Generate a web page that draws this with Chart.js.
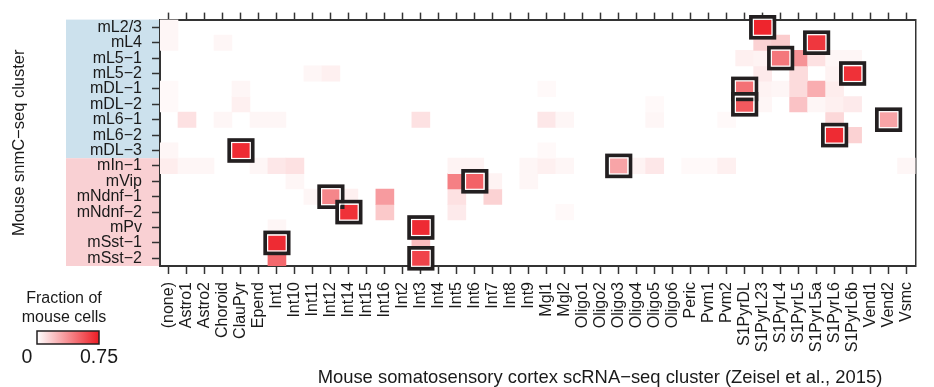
<!DOCTYPE html>
<html lang="en">
<head>
<meta charset="UTF-8">
<title>snmC-seq vs scRNA-seq clusters</title>
<script src="https://cdn.jsdelivr.net/npm/chart.js"></script>
<style>
  body { margin: 0; background: #fff; }
  canvas { display: block; }
</style>
</head>
<body>
<canvas id="heatmap" width="934" height="387"></canvas>
<script>
// snmC-seq clusters (rows) against scRNA-seq clusters (columns)
const rowLabels = ['mL2/3', 'mL4', 'mL5−1', 'mL5−2', 'mDL−1', 'mDL−2', 'mL6−1', 'mL6−2', 'mDL−3',
  'mIn−1', 'mVip', 'mNdnf−1', 'mNdnf−2', 'mPv', 'mSst−1', 'mSst−2'];
const excitatoryRows = 9; // first 9 rows are excitatory, the rest inhibitory

const colLabels = ['(none)', 'Astro1', 'Astro2', 'Choroid', 'ClauPyr', 'Epend', 'Int1', 'Int10', 'Int11',
  'Int12', 'Int14', 'Int15', 'Int16', 'Int2', 'Int3', 'Int4', 'Int5', 'Int6', 'Int7', 'Int8', 'Int9',
  'Mgl1', 'Mgl2', 'Oligo1', 'Oligo2', 'Oligo3', 'Oligo4', 'Oligo5', 'Oligo6', 'Peric', 'Pvm1', 'Pvm2',
  'S1PyrDL', 'S1PyrL23', 'S1PyrL4', 'S1PyrL5', 'S1PyrL5a', 'S1PyrL6', 'S1PyrL6b', 'Vend1', 'Vend2', 'Vsmc'];

// fraction of mouse cells per row, only non-zero cells: [column, fraction]
const fractions = [
  [['(none)', 0.03], ['S1PyrL23', 0.72]],
  [['(none)', 0.03], ['Choroid', 0.03], ['S1PyrL23', 0.15], ['S1PyrL4', 0.17], ['S1PyrL5a', 0.66]],
  [['S1PyrDL', 0.05], ['S1PyrL23', 0.04], ['S1PyrL4', 0.45], ['S1PyrL5', 0.36], ['S1PyrL5a', 0.1],
   ['S1PyrL6', 0.03], ['S1PyrL6b', 0.03]],
  [['Int11', 0.03], ['Int12', 0.05], ['S1PyrL23', 0.07], ['S1PyrL5', 0.12], ['S1PyrL6', 0.04], ['S1PyrL6b', 0.68]],
  [['(none)', 0.02], ['ClauPyr', 0.03], ['Mgl1', 0.02], ['S1PyrDL', 0.47], ['S1PyrL23', 0.04], ['S1PyrL4', 0.03],
   ['S1PyrL5', 0.12], ['S1PyrL5a', 0.27], ['S1PyrL6', 0.06]],
  [['(none)', 0.02], ['ClauPyr', 0.05], ['Oligo5', 0.02], ['S1PyrDL', 0.55], ['S1PyrL23', 0.03], ['S1PyrL5', 0.2],
   ['S1PyrL5a', 0.03], ['S1PyrL6', 0.05], ['S1PyrL6b', 0.07]],
  [['Astro1', 0.1], ['Choroid', 0.03], ['Epend', 0.03], ['Int1', 0.03], ['Int3', 0.1], ['Mgl1', 0.08],
   ['Mgl2', 0.03], ['Oligo5', 0.03], ['Pvm2', 0.02], ['S1PyrL6', 0.13], ['Vend2', 0.3]],
  [['S1PyrL6', 0.7], ['S1PyrL6b', 0.15]],
  [['(none)', 0.03], ['ClauPyr', 0.7], ['Mgl1', 0.02]],
  [['(none)', 0.06], ['Astro1', 0.03], ['Astro2', 0.03], ['Epend', 0.03], ['Int1', 0.08], ['Int10', 0.1],
   ['Int5', 0.04], ['Int6', 0.04], ['Int9', 0.03], ['Mgl1', 0.05], ['Mgl2', 0.03], ['Oligo3', 0.3],
   ['Oligo4', 0.04], ['Oligo5', 0.08], ['Peric', 0.02], ['Pvm1', 0.02], ['Pvm2', 0.05], ['Vsmc', 0.03]],
  [['Int10', 0.03], ['Int5', 0.42], ['Int6', 0.52], ['Int7', 0.04], ['Int9', 0.03]],
  [['Int11', 0.03], ['Int12', 0.4], ['Int14', 0.05], ['Int16', 0.33], ['Int5', 0.1], ['Int7', 0.15]],
  [['Int14', 0.68], ['Int16', 0.18], ['Int5', 0.07], ['Mgl2', 0.02]],
  [['Int1', 0.03], ['Int3', 0.7]],
  [['Int1', 0.7], ['Int3', 0.22]],
  [['Int1', 0.5], ['Int3', 0.62]]
];

// best matching scRNA-seq cluster for each row (outlined)
const bestMatch = ['S1PyrL23', 'S1PyrL5a', 'S1PyrL4', 'S1PyrL6b', 'S1PyrDL', 'S1PyrDL', 'Vend2', 'S1PyrL6',
  'ClauPyr', 'Oligo3', 'Int6', 'Int12', 'Int14', 'Int3', 'Int1', 'Int3'];

const scaleMax = 0.75;

const FONT = "'Liberation Sans', Arial, Helvetica, sans-serif";
const INK = '#231f20';
const AXIS = '#333333';
const RED = [237, 28, 36];

function fracColor(v) {
  const t = Math.min(v / scaleMax, 1);
  const c = RED.map(ch => Math.round(255 + (ch - 255) * t));
  return 'rgb(' + c.join(',') + ')';
}

// one floating-bar dataset per row, each bar covers one cell
const datasets = fractions.map((cells, r) => ({
  label: rowLabels[r],
  data: cells.map(([col, v]) => ({ x: col, y: [r - 0.5, r + 0.5], v: v })),
  backgroundColor: ctx => ctx.raw ? fracColor(ctx.raw.v) : '#fff',
  borderWidth: 0,
  categoryPercentage: 1,
  barPercentage: 1,
  grouped: false
}));

// row label bands, outline boxes, colour key and x title
const decorations = {
  id: 'decorations',
  beforeDraw(chart) {
    const { ctx, chartArea } = chart;
    const y = chart.scales.y;
    ctx.save();
    ctx.fillStyle = '#fff';
    ctx.fillRect(0, 0, chart.width, chart.height);
    const mid = y.getPixelForValue(excitatoryRows - 0.5);
    ctx.fillStyle = '#cce1ed';
    ctx.fillRect(66, y.getPixelForValue(-0.5), chartArea.left - 66, mid - y.getPixelForValue(-0.5));
    ctx.fillStyle = '#f9d0d3';
    ctx.fillRect(66, mid, chartArea.left - 66, y.getPixelForValue(rowLabels.length - 0.5) - mid);
    ctx.restore();
  },
  afterDatasetsDraw(chart) {
    const { ctx } = chart;
    const x = chart.scales.x, y = chart.scales.y;
    const hw = (x.getPixelForValue(1) - x.getPixelForValue(0)) / 2;
    const hh = Math.abs(y.getPixelForValue(1) - y.getPixelForValue(0)) / 2;
    ctx.save();
    bestMatch.forEach((col, r) => {
      const cx = x.getPixelForValue(colLabels.indexOf(col));
      const cy = y.getPixelForValue(r);
      ctx.lineWidth = 4;
      ctx.strokeStyle = INK;
      ctx.strokeRect(cx - hw - 2.6, cy - hh - 2.6, 2 * hw + 5.2, 2 * hh + 5.2);
      ctx.lineWidth = 1.2;
      ctx.strokeStyle = '#fff';
      ctx.strokeRect(cx - hw - 0.3, cy - hh - 0.3, 2 * hw + 0.6, 2 * hh + 0.6);
    });
    ctx.restore();
  },
  afterDraw(chart) {
    const { ctx } = chart;
    ctx.save();
    ctx.fillStyle = '#1a1a1a';
    ctx.textAlign = 'center';
    ctx.textBaseline = 'middle';
    ctx.font = '18.4px ' + FONT;
    ctx.fillText('Mouse somatosensory cortex scRNA−seq cluster (Zeisel et al., 2015)', 600, 378);

    // colour key
    ctx.font = '16px ' + FONT;
    ctx.fillText('Fraction of', 64, 299);
    ctx.fillText('mouse cells', 64, 318);
    const grad = ctx.createLinearGradient(37, 0, 99, 0);
    grad.addColorStop(0, fracColor(0));
    grad.addColorStop(1, fracColor(scaleMax));
    ctx.fillStyle = grad;
    ctx.fillRect(37, 331, 62, 13);
    ctx.lineWidth = 1.5;
    ctx.strokeStyle = INK;
    ctx.strokeRect(37, 331, 62, 13);
    ctx.fillStyle = '#1a1a1a';
    ctx.font = '19.5px ' + FONT;
    ctx.fillText('0', 27, 358);
    ctx.fillText(String(scaleMax), 99, 358);
    ctx.restore();
  }
};

const tickGrid = {
  drawOnChartArea: false,
  offset: false,
  tickLength: 8,
  tickWidth: 1.5,
  tickColor: AXIS
};
const axisBorder = { display: true, color: AXIS, width: 2 };

new Chart(document.getElementById('heatmap'), {
  type: 'bar',
  data: { labels: colLabels, datasets: datasets },
  options: {
    responsive: false,
    animation: false,
    layout: { padding: 0 },
    plugins: {
      legend: { display: false },
      tooltip: { enabled: false }
    },
    scales: {
      x: {
        type: 'category',
        position: 'bottom',
        offset: true,
        grid: tickGrid,
        border: axisBorder,
        ticks: {
          autoSkip: false,
          maxRotation: 90,
          minRotation: 90,
          padding: 8,
          color: '#1a1a1a',
          font: { family: FONT, size: 16 }
        },
        afterFit: s => { s.height = 121; }
      },
      xTop: {
        type: 'category',
        position: 'top',
        labels: colLabels,
        offset: true,
        grid: Object.assign({}, tickGrid, { tickLength: 7 }),
        border: axisBorder,
        ticks: { display: false },
        afterFit: s => { s.height = 12; }
      },
      y: {
        type: 'linear',
        position: 'left',
        reverse: true,
        min: -0.5,
        max: rowLabels.length - 0.5,
        grid: tickGrid,
        border: axisBorder,
        afterBuildTicks: s => { s.ticks = rowLabels.map((_, i) => ({ value: i })); },
        ticks: {
          autoSkip: false,
          padding: 10,
          color: '#1a1a1a',
          font: { family: FONT, size: 16 },
          callback: v => rowLabels[v]
        },
        title: {
          display: true,
          text: 'Mouse snmC−seq cluster',
          color: '#1a1a1a',
          font: { family: FONT, size: 16.5 },
          padding: { top: 10, bottom: 0 }
        },
        afterFit: s => { s.width = 160; }
      },
      yRight: {
        type: 'linear',
        position: 'right',
        grid: { display: false, drawTicks: false },
        border: { display: true, color: AXIS, width: 1.5 },
        ticks: { display: false },
        afterFit: s => { s.width = 1; }
      }
    }
  },
  plugins: [decorations]
});
</script>
</body>
</html>
